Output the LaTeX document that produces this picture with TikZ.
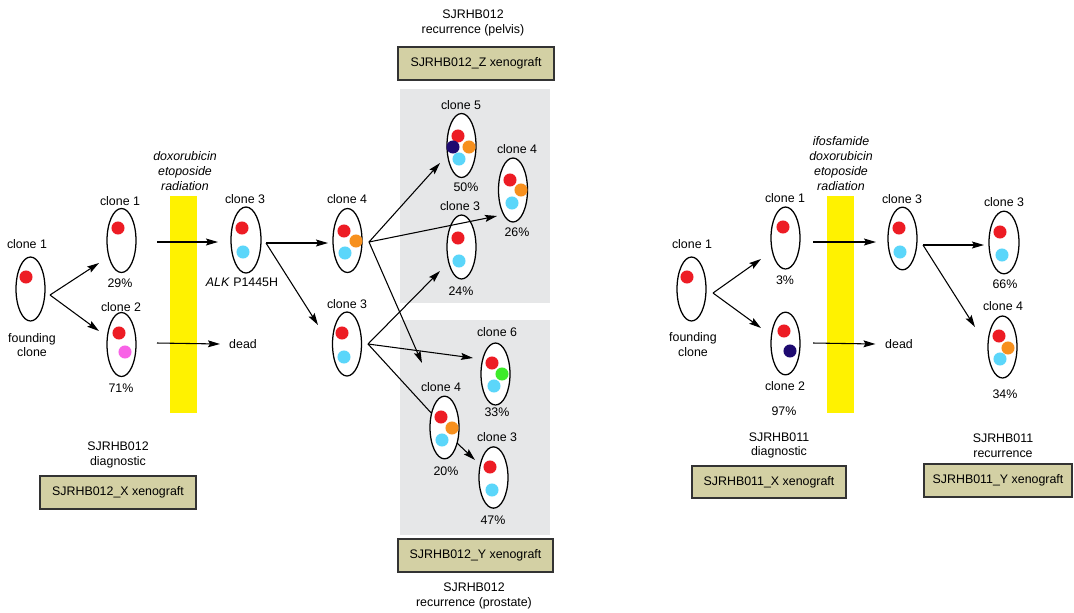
\documentclass[tikz,border=0pt]{standalone}
\usepackage{fontspec}
\setmainfont{Liberation Sans}
\usetikzlibrary{arrows.meta,shapes.geometric}
\definecolor{cred}{HTML}{ED1C24}
\definecolor{ccyan}{HTML}{5BD6FA}
\definecolor{corange}{HTML}{F7901E}
\definecolor{cnavy}{HTML}{1E0A70}
\definecolor{cgreen}{HTML}{3DEB2A}
\definecolor{cpink}{HTML}{F862E6}
\definecolor{cyellow}{HTML}{FFF200}
\definecolor{cgray}{HTML}{E6E7E8}
\definecolor{ckhaki}{HTML}{D3D0A4}
\begin{document}
\begin{tikzpicture}[x=0.75pt,y=-0.75pt,
  clone/.style={draw,ellipse,line width=0.95pt,fill=white,minimum width=21.75pt,minimum height=48pt,inner sep=0pt},
  lbl/.style={font=\fontsize{9.3}{11}\selectfont,inner sep=0pt,align=center},
  trt/.style={font=\fontsize{9.3}{11}\selectfont\itshape,inner sep=0pt,align=center},
  arr/.style={-{Stealth[length=9pt,width=5.2pt,inset=1.5pt]},line width=0.8pt},
  plain/.style={line width=0.8pt},
  xeno/.style={draw=black!80,line width=1.1pt,fill=ckhaki,inner sep=0pt,font=\fontsize{9.3}{11}\selectfont},
  bar/.style={fill=cyellow},
  panel/.style={fill=cgray}]
\useasboundingbox (0,0) rectangle (1074,612);

% backgrounds
\fill[panel] (400,89) rectangle (550,303);
\fill[panel] (400,320) rectangle (550,535);
\fill[bar] (170,196) rectangle (197,413);
\fill[bar] (827,196) rectangle (854,413);

% ---------- left: SJRHB012 ----------
\node[clone] (f1) at (30.5,289) {};
\node[clone] (c1) at (121.5,240.5) {};
\node[clone] (c2) at (121.5,344.5) {};
\node[clone,minimum width=22.5pt,minimum height=49.5pt] (c3) at (246,240) {};
\node[clone] (m4) at (347.5,240.5) {};
\node[clone] (m3) at (347,344) {};
\node[clone] (u5) at (461.5,145.5) {};
\node[clone] (u4) at (513,190) {};
\node[clone] (u3) at (461.5,247) {};
\node[clone,minimum height=46.5pt] (l6) at (495.5,374) {};
\node[clone,minimum height=47pt] (l4) at (444.5,427.5) {};
\node[clone,minimum height=46pt] (l3) at (493.5,477.5) {};

% dots
\fill[cred] (26,277) circle (4.9pt);
\fill[cred] (118,228) circle (4.9pt);
\fill[cred] (119,333) circle (4.9pt);
\fill[cpink] (125,352) circle (4.9pt);
\fill[cred] (242,228) circle (4.9pt);
\fill[ccyan] (243,252) circle (4.9pt);
\fill[cred] (344,231) circle (4.9pt);
\fill[ccyan] (345,253) circle (4.9pt);
\fill[corange] (356,241) circle (4.9pt);
\fill[cred] (342,333) circle (4.9pt);
\fill[ccyan] (344,357) circle (4.9pt);
\fill[cred] (458,136) circle (4.9pt);
\fill[ccyan] (459,159) circle (4.9pt);
\fill[cnavy] (453,147) circle (4.9pt);
\fill[corange] (469,147) circle (4.9pt);
\fill[cred] (510,180) circle (4.9pt);
\fill[ccyan] (512,203) circle (4.9pt);
\fill[corange] (521,190) circle (4.9pt);
\fill[cred] (458,238) circle (4.9pt);
\fill[ccyan] (459,261) circle (4.9pt);
\fill[cred] (492,363) circle (4.9pt);
\fill[ccyan] (494,386) circle (4.9pt);
\fill[cgreen] (502,374) circle (4.9pt);
\fill[cred] (441,417) circle (4.9pt);
\fill[ccyan] (442,440) circle (4.9pt);
\fill[corange] (452,428) circle (4.9pt);
\fill[cred] (490,467) circle (4.9pt);
\fill[ccyan] (492,490) circle (4.9pt);

% labels
\node[lbl] (tf1) at (27,244) {clone 1};
\node[lbl] (bf1) at (32,345) {founding\\[-0.3pt]clone};
\node[lbl] (tc1) at (120,201) {clone 1};
\node[lbl] (pc1) at (120,283) {29\%};
\node[lbl] (tc2) at (121,307) {clone 2};
\node[lbl] (pc2) at (121,388) {71\%};
\node[trt] (tr1) at (185,171) {doxorubicin\\etoposide\\radiation};
\node[lbl] (tc3) at (245,199) {clone 3};
\node[lbl] (alk) at (242,282) {\textit{ALK} P1445H};
\node[lbl] (dead1) at (243,344) {dead};
\node[lbl] (tm4) at (347,199) {clone 4};
\node[lbl] (tm3) at (347,304) {clone 3};
\node[lbl] (tu5) at (461,105) {clone 5};
\node[lbl] (pu5) at (466,187) {50\%};
\node[lbl] (tu4) at (517,149) {clone 4};
\node[lbl] (pu4) at (517,232) {26\%};
\node[lbl] (tu3) at (460,206) {clone 3};
\node[lbl] (pu3) at (461,291) {24\%};
\node[lbl] (tl6) at (497,332) {clone 6};
\node[lbl] (pl6) at (497,412) {33\%};
\node[lbl] (tl4) at (441,387) {clone 4};
\node[lbl] (pl4) at (446,471) {20\%};
\node[lbl] (tl3) at (497,437) {clone 3};
\node[lbl] (pl3) at (493,520) {47\%};

\node[lbl] (hz) at (473,23) {SJRHB012\\recurrence (pelvis)};
\node[xeno,minimum width=117pt,minimum height=24.75pt] (zbox) at (476,63.5) {SJRHB012\_Z xenograft};
\node[xeno,minimum width=116.25pt,minimum height=24.75pt] (ybox) at (475.5,555.5) {SJRHB012\_Y xenograft};
\node[lbl] (hy) at (474,596) {SJRHB012\\recurrence (prostate)};
\node[lbl] (hx) at (118,455) {SJRHB012\\diagnostic};
\node[xeno,minimum width=117pt,minimum height=24.75pt] (xbox) at (118,492.5) {SJRHB012\_X xenograft};

% connectors
\draw[arr] ([shift={(19.5,6)}]f1.center) -- ([shift={(-22.5,22.5)}]c1.center);
\draw[arr] ([shift={(19.5,6)}]f1.center) -- ([shift={(-22.5,-13.5)}]c2.center);
\draw[arr] ([shift={(35.5,1.5)}]c1.center) -- ([shift={(-28,2)}]c3.center);
\draw[arr] ([shift={(35.5,-1.5)}]c2.center) -- ([shift={(-9,0)}]dead1.west);
\draw[arr] ([shift={(20,3)}]c3.center) -- ([shift={(-19.5,2.5)}]m4.center);
\draw[arr] ([shift={(20,3)}]c3.center) -- ([shift={(-29,-19)}]m3.center);
\draw[arr] ([shift={(21.5,1.5)}]m4.center) -- ([shift={(-21.5,17.5)}]u5.center);
\draw[arr] ([shift={(21.5,1.5)}]m4.center) -- ([shift={(-16,26)}]u4.center);
\draw[arr] ([shift={(21.5,1.5)}]m4.center) -- ([shift={(-22.5,-64.5)}]l4.center);
\draw[arr] ([shift={(21,0)}]m3.center) -- ([shift={(-21.5,24)}]u3.center);
\draw[arr] ([shift={(21,0)}]m3.center) -- ([shift={(-22.5,-16)}]l6.center);
\draw[plain] ([shift={(21,0)}]m3.center) -- (l4);
\draw[arr] ([shift={(12.5,15.5)}]l4.center) -- ([shift={(-18.5,-17.5)}]l3.center);

% ---------- right: SJRHB011 ----------
\node[clone] (rf1) at (691.5,289) {};
\node[clone,minimum height=46.5pt] (rc1) at (785.5,238) {};
\node[clone,minimum height=47pt] (rc2) at (785.5,343.5) {};
\node[clone,minimum height=47pt] (rc3) at (902.5,238.5) {};
\node[clone,minimum width=22.5pt,minimum height=47pt] (rr3) at (1004,242.5) {};
\node[clone,minimum height=46.5pt] (rr4) at (1002.5,347) {};

\fill[cred] (687,277) circle (4.9pt);
\fill[cred] (783,227) circle (4.9pt);
\fill[cred] (784,331) circle (4.9pt);
\fill[cnavy] (790,351) circle (4.9pt);
\fill[cred] (899,228) circle (4.9pt);
\fill[ccyan] (900,252) circle (4.9pt);
\fill[cred] (1000,232) circle (4.9pt);
\fill[ccyan] (1002,255) circle (4.9pt);
\fill[cred] (999,336) circle (4.9pt);
\fill[ccyan] (1000,359) circle (4.9pt);
\fill[corange] (1008,348) circle (4.9pt);

\node[lbl] (trf1) at (692,244) {clone 1};
\node[lbl] (brf1) at (693,344.5) {founding\\[-0.3pt]clone};
\node[lbl] (trc1) at (785,198) {clone 1};
\node[lbl] (prc1) at (785,280) {3\%};
\node[lbl] (trc2) at (785,386) {clone 2};
\node[lbl] (prc2) at (784,411) {97\%};
\node[trt,font=\fontsize{9.3}{11.25}\selectfont\itshape] (tr2) at (841,163.5) {ifosfamide\\doxorubicin\\etoposide\\radiation};
\node[lbl] (dead2) at (899,344) {dead};
\node[lbl] (trc3) at (902,199) {clone 3};
\node[lbl] (trr3) at (1004,202) {clone 3};
\node[lbl] (prr3) at (1005,284) {66\%};
\node[lbl] (trr4) at (1003,306) {clone 4};
\node[lbl] (prr4) at (1005,394) {34\%};
\node[lbl] (hrx) at (779,445.5) {SJRHB011\\diagnostic};
\node[xeno,minimum width=115.5pt,minimum height=24pt] (rxbox) at (769,482) {SJRHB011\_X xenograft};
\node[lbl] (hry) at (1003,445.5) {SJRHB011\\recurrence};
\node[xeno,minimum width=111pt,minimum height=24.75pt] (rybox) at (998,480.5) {SJRHB011\_Y xenograft};

\draw[arr] ([shift={(21.5,4)}]rf1.center) -- ([shift={(-24.5,21)}]rc1.center);
\draw[arr] ([shift={(21.5,4)}]rf1.center) -- ([shift={(-24.5,-15.5)}]rc2.center);
\draw[arr] ([shift={(27.5,4)}]rc1.center) -- ([shift={(-26.5,3.5)}]rc3.center);
\draw[arr] ([shift={(27.5,-0.5)}]rc2.center) -- ([shift={(-9.5,0)}]dead2.west);
\draw[arr] ([shift={(20.5,6.5)}]rc3.center) -- ([shift={(-20,2.5)}]rr3.center);
\draw[arr] ([shift={(20.5,6.5)}]rc3.center) -- ([shift={(-27.5,-20)}]rr4.center);
\end{tikzpicture}
\end{document}
